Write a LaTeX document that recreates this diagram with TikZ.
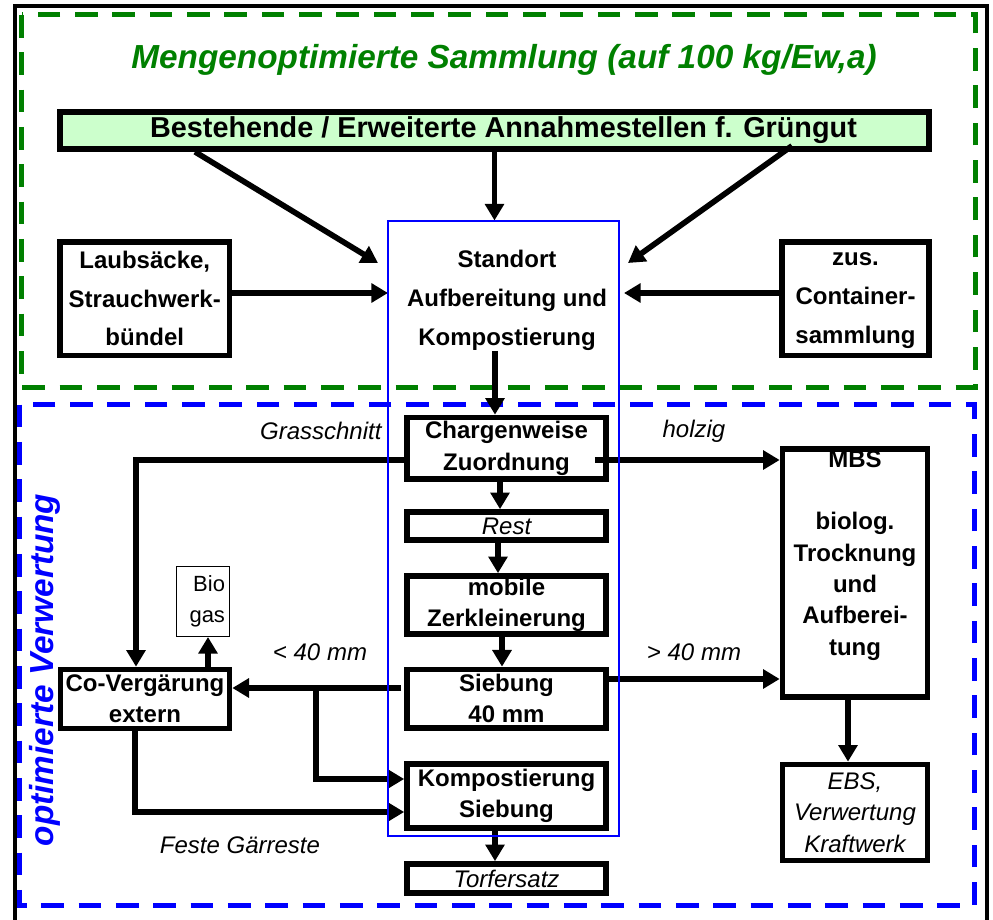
\documentclass[tikz,border=0pt]{standalone}
\usepackage{fontspec}
\setmainfont{Liberation Sans}
\usetikzlibrary{arrows.meta,calc}
\definecolor{grpgreen}{RGB}{0,128,0}
\definecolor{annofill}{RGB}{204,255,204}

\tikzset{every picture/.style={line width=0.75pt}}
\tikzset{
  box/.style={draw, line width=4.25pt, inner sep=1pt, align=center, font=\fontsize{18}{23.5}\selectfont\bfseries},
  tall/.style={align=center, font=\fontsize{18}{29}\selectfont\bfseries},
  itbox/.style={font=\fontsize{18}{23.5}\selectfont\itshape},
  lbl/.style={inner sep=0pt, font=\fontsize{18}{23.5}\selectfont\itshape},
  arr/.style={line width=4.25pt, -{Triangle[length=12.5pt,width=14pt]}},
  grpline/.style={line width=3.75pt, dash pattern=on 17pt off 11pt},
  standbox/.style={draw=none, outer sep=0pt, inner sep=0pt}
}

\begin{document}
\begin{tikzpicture}[x=0.75pt,y=0.75pt,yscale=-1,xscale=1]
		\useasboundingbox (0,0) rectangle (993,920);
		%Shape: Frame
		\draw [line width=2.5pt] (15,925) -- (15,6) -- (987,6) -- (987,925);
		%Shape: Dashed groups
		\draw [grpline, grpgreen] (21.5,15) rectangle (975,387.5);
		\draw [grpline, blue] (19,404.5) rectangle (974,905);
		% Text Node
		\node [anchor=base, text=grpgreen, font=\fontsize{25}{30}\selectfont\bfseries\itshape] (title) at (504,69) {Mengenoptimierte Sammlung (auf 100 kg/Ew,a)};
		% Text Node
		\node [anchor=base, rotate=90, text=blue, font=\fontsize{25}{30}\selectfont\bfseries\itshape] (vtitle) at (53,670) {optimierte Verwertung};

		%Shape: Rectangle
		\node [box, fill=annofill, minimum width=651.75pt, minimum height=27.75pt, font=\fontsize{21.6}{25}\selectfont\bfseries] (anno) at (494.5,130.5) {\hspace*{13.5pt}Bestehende / Erweiterte Annahmestellen f. Grüngut};
		\node [box, tall, minimum width=127.1pt, minimum height=85.1pt] (laub) at (144.75,298.75) {Laubsäcke,\\Strauchwerk-\\bündel};
		\node [box, tall, minimum width=110.25pt, minimum height=85.1pt] (zus) at (855.5,298.75) {\vphantom{L}zus.\\Container-\\sammlung};
		\path node [standbox, minimum width=173.25pt, minimum height=461.6pt] (stand) at (503.5,528.25) {};
		\node [tall, inner sep=0pt] (standtxt) at (507,300.5) {Standort\\Aufbereitung und\\Kompostierung};

		%Shape: Rectangle
		\node [box, minimum width=149.25pt, minimum height=46.1pt] (charge) at (506.5,448.25) {Chargenweise\\Zuordnung};
		\node [box, itbox, minimum width=149.25pt, minimum height=21pt] (rest) at (506.5,526) {Rest};
		\node [box, minimum width=149.25pt, minimum height=43.5pt] (mobile) at (506.5,605) {mobile\\Zerkleinerung};
		\node [box, minimum width=149.25pt, minimum height=43.9pt] (sieb) at (506.5,698.75) {Siebung\\40 mm};
		\node [box, minimum width=149.25pt, minimum height=48.2pt] (kompost) at (506.5,795.8) {Kompostierung\\Siebung};
		\node [box, itbox, minimum width=149.25pt, minimum height=21.75pt] (torf) at (506.5,878.5) {Torfersatz};
		\node [box, minimum width=108.75pt, minimum height=184.5pt] (mbs) at (855,573) {MBS\\[23.5pt]biolog.\\Trocknung\\und\\Aufberei-\\tung\\\strut};
		\node [box, itbox, minimum width=108.75pt, minimum height=72pt] (ebs) at (855,812.5) {EBS,\\Verwertung\\Kraftwerk};
		\node [box, minimum width=126.75pt, minimum height=44.25pt] (co) at (145,699) {Co-Vergärung\\extern};
		\node [draw, line width=0.75pt, minimum width=39.75pt, minimum height=52.5pt, text width=33pt, align=right, inner sep=0pt, font=\fontsize{16.5}{23}\selectfont] (bio) at (203,601.5) {Bio\\gas};

		% Text Node
		\node [lbl, anchor=east] (grass) at (382,431) {Grasschnitt};
		\node [lbl] (holz) at (694,431) {holzig};
		\node [lbl] (lt40) at (320,652) {< 40 mm};
		\node [lbl] (gt40) at (694,652) {> 40 mm};
		\node [lbl] (gaer) at (240,845) {Feste Gärreste};

		%Arrows: collection
		\coordinate (inL) at (378,263);
		\coordinate (inR) at (628,263);
		\coordinate (l1) at ($(laub.east)+(0,-5.75)$);
		\coordinate (z1) at ($(zus.west)+(0,-5.75)$);
		\coordinate (sd) at ($(standtxt.south)+(-12,0)$);
		\draw [arr] ($(anno.south)+(-299.5,0)$) -- (inL);
		\draw [arr] (anno.south) -- (anno.south |- stand.north);
		\draw [arr] ($(anno.south)+(297.5,-6)$) -- (inR);
		\draw [arr] (l1) -- (l1 -| stand.west);
		\draw [arr, shorten >=3.75pt] (z1) -- (z1 -| stand.east);
		\draw [arr] (sd) -- (sd |- charge.north);

		%Arrows: chain
		\draw [arr] ($(charge.south)+(-6.5,0)$) -- ($(rest.north)+(-6.5,0)$);
		\draw [arr] ($(rest.south)+(-8.5,0)$) -- ($(mobile.north)+(-8.5,0)$);
		\draw [arr] ($(mobile.south)+(-4.5,0)$) -- ($(sieb.north)+(-4.5,0)$);
		\draw [arr] ($(kompost.south)+(-11.5,0)$) -- ($(torf.north)+(-11.5,0)$);

		%Arrows: branches
		\coordinate (hz) at ($(charge.east)+(-14,11.75)$);
		\coordinate (lt) at ($(sieb.west)+(-3,-10.75)$);
		\coordinate (br) at (316,688);
		\coordinate (rt) at ($(sieb.east)+(0,-19.75)$);
		\coordinate (bg) at ($(bio.south)+(5,0)$);
		\draw [arr] ($(charge.west)+(0,11.75)$) -| ($(co.north)+(-9,0)$);
		\draw [arr] (hz) -- (hz -| mbs.west);
		\draw [arr] (lt) -- (lt -| co.east);
		\draw [arr] (br) |- ($(kompost.west)+(0,-16.8)$);
		\draw [arr] ($(co.south)+(-10,0)$) |- ($(kompost.west)+(0,16.2)$);
		\draw [arr] (bg |- co.north) -- (bg);
		\draw [arr] (rt) -- (rt -| mbs.west);
		\draw [arr] ($(mbs.south)+(-7,0)$) -- ($(ebs.north)+(-7,0)$);

		%Shape: Standort frame
		\draw [blue, line width=1.5pt] (stand.north west) rectangle (stand.south east);

	\end{tikzpicture}
\end{document}
